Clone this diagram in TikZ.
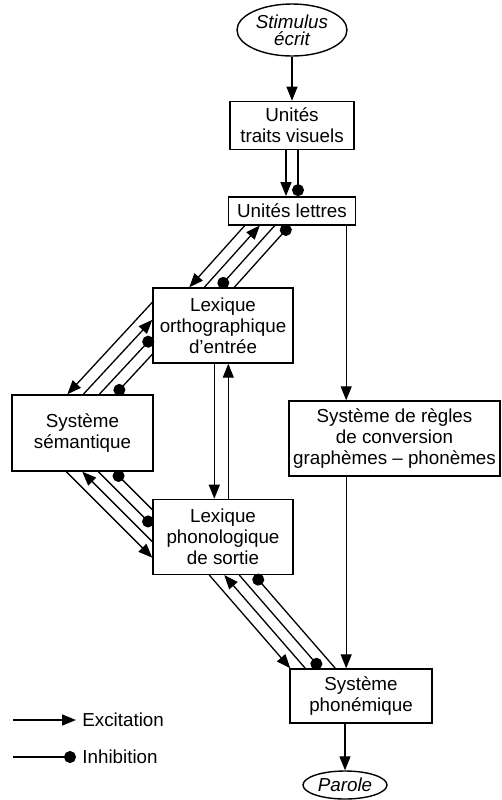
\documentclass[tikz,border=0pt]{standalone}
\usepackage{fontspec}
\setmainfont{Liberation Sans}
\usepackage{tikz}
\usetikzlibrary{shapes.geometric, arrows.meta, positioning, calc}

\begin{document}
\begin{tikzpicture}[x=0.5pt, y=-0.5pt, every node/.style={font=\fontsize{9.4}{10.5}\selectfont},
  box/.style={draw, rectangle, line width=0.7pt, inner sep=0pt, align=center},
  oval/.style={draw, ellipse, line width=0.7pt, inner sep=0pt, align=center, font=\fontsize{9.4}{10.5}\selectfont\itshape},
  excite/.style={-{Triangle[length=7pt, width=5.5pt]}, line width=0.65pt},
  inhibit/.style={-{Circle[length=6pt]}, line width=0.65pt}]
\useasboundingbox (0,0) rectangle (502,800);

\node (stimulus) [oval, minimum width=55pt, minimum height=26pt] at (292,30) {Stimulus\\[-2pt]écrit};
\node (traits) [box, minimum width=62pt, minimum height=24pt, below=22pt of stimulus] {Unités\\traits visuels};
\node (lettres) [box, minimum width=63.5pt, minimum height=14pt, below=23pt of traits] {Unités lettres};
\node (orthographique) [box, minimum width=70pt, minimum height=37.5pt] at (223,325.5) {Lexique\\orthographique\\d'entrée};
\node (phonologique) [box, minimum width=70pt, minimum height=37.5pt, below=67.5pt of orthographique] {Lexique\\phonologique\\de sortie};
\node (semantique) [box, minimum width=70.5pt, minimum height=38pt] at (82.5,433) {Système\\sémantique};
\node (regles) [box, minimum width=105.5pt, minimum height=37.5pt] at (394.5,438.5) {Système de règles\\de conversion\\graphèmes -- phonèmes};
\node (phonemique) [box, minimum width=71pt, minimum height=27pt] at (361,696) {Système\\phonémique};
\node (parole) [oval, minimum width=42pt, minimum height=14pt] at (345,785) {Parole};

% voie visuelle
\draw[excite] (stimulus) -- (traits);
\draw[excite] ($(traits.south)+(-6,0)$) -- ($(lettres.north)+(-6,0)$);
\draw[inhibit] ($(traits.south)+(6,0)$) -- ($(lettres.north)+(6,0)$);

% lettres <-> lexique orthographique
\draw[excite] ($(lettres.south west)+(17,0)$) -- ($(orthographique.north west)+(37,0)$);
\draw[excite] ($(orthographique.north west)+(52,0)$) -- ($(lettres.south west)+(32,0)$);
\draw[inhibit] ($(lettres.south west)+(47,0)$) -- ($(orthographique.north west)+(67,0)$);
\draw[inhibit] ($(orthographique.north west)+(82,0)$) -- ($(lettres.south west)+(62,0)$);

% lexique orthographique <-> semantique
\draw[excite] ($(orthographique.north west)+(0,15)$) -- ($(semantique.north west)+(56,0)$);
\draw[excite] ($(semantique.north west)+(72,0)$) -- ($(orthographique.north west)+(0,32.5)$);
\draw[inhibit] ($(semantique.north west)+(88,0)$) -- ($(orthographique.north west)+(0,50)$);
\draw[inhibit] ($(orthographique.north west)+(0,67)$) -- ($(semantique.north west)+(104,0)$);

% lexique orthographique <-> lexique phonologique
\draw[excite] ($(orthographique.south west)+(62,0)$) -- ($(phonologique.north west)+(62,0)$);
\draw[excite] ($(phonologique.north west)+(76,0)$) -- ($(orthographique.south west)+(76,0)$);

% semantique <-> lexique phonologique
\draw[excite] ($(semantique.south west)+(55,0)$) -- ($(phonologique.north west)+(0,59)$);
\draw[excite] ($(phonologique.north west)+(0,43)$) -- ($(semantique.south west)+(71,0)$);
\draw[inhibit] ($(semantique.south west)+(87,0)$) -- ($(phonologique.north west)+(0,27)$);
\draw[inhibit] ($(phonologique.north west)+(0,11)$) -- ($(semantique.south west)+(103,0)$);

% lexique phonologique <-> systeme phonemique
\draw[excite] ($(phonologique.south west)+(57,0)$) -- ($(phonemique.north west)+(1,0)$);
\draw[excite] ($(phonemique.north west)+(16,0)$) -- ($(phonologique.south west)+(72,0)$);
\draw[inhibit] ($(phonologique.south west)+(87,0)$) -- ($(phonemique.north west)+(31,0)$);
\draw[inhibit] ($(phonemique.north west)+(46,0)$) -- ($(phonologique.south west)+(102,0)$);

% voie de conversion
\coordinate (voie) at ($(lettres.south east)+(-10,0)$);
\draw[excite] (voie) -- (voie |- regles.north);
\draw[excite] (voie |- regles.south) -- (voie |- phonemique.north);
\draw[excite] (phonemique.south -| parole) -- (parole.north);

% legende
\coordinate (legexc) at (13,720);
\coordinate (leginh) at (13,757);
\node (excitation) [anchor=west, inner sep=3pt] at (76,720) {Excitation};
\node (inhibition) [anchor=west, inner sep=3pt] at (76,757) {Inhibition};
\draw[excite] (legexc) -- (excitation);
\draw[inhibit] (leginh) -- (inhibition);
\end{tikzpicture}
\end{document}
